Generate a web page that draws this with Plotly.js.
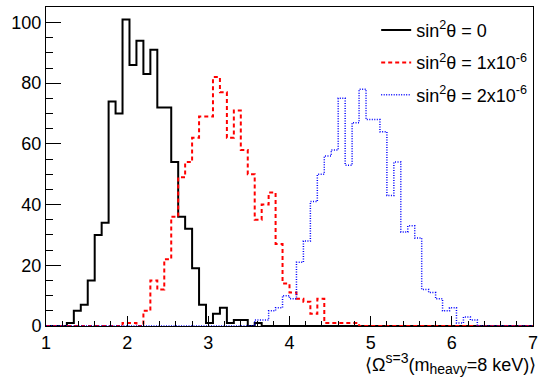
<!DOCTYPE html>
<html>
<head>
<meta charset="utf-8">
<script src="https://cdn.plot.ly/plotly-3.0.1.min.js"></script>
<style>
  html, body { margin: 0; padding: 0; background: #fff; }
  #chart { width: 541px; height: 378px; }
</style>
</head>
<body>
<div id="chart"></div>
<script>
// Histogram binning: 70 equal bins on [1, 7]
const xMin = 1;
const xMax = 7;
const nBins = 70;

// Legend labels
const labels = [
  'sin<sup>2</sup>θ = 0',
  'sin<sup>2</sup>θ = 1x10<sup>-6</sup>',
  'sin<sup>2</sup>θ = 2x10<sup>-6</sup>'
];

// Bin contents (entries per bin), 1000 pseudo-experiments each
const countsZero = [
  0, 0, 0, 1, 5, 7, 15, 30, 34, 74,
  70, 101, 86, 94, 83, 91, 72, 72, 54, 36,
  32, 19, 7, 1, 4, 6, 1, 2, 2, 0,
  1, 0, 0, 0, 0, 0, 0, 0, 0, 0,
  0, 0, 0, 0, 0, 0, 0, 0, 0, 0,
  0, 0, 0, 0, 0, 0, 0, 0, 0, 0,
  0, 0, 0, 0, 0, 0, 0, 0, 0, 0
];
const countsOne = [
  0, 0, 0, 0, 0, 0, 0, 0, 0, 0,
  0, 1, 1, 0, 5, 15, 12, 22, 36, 49,
  54, 62, 69, 69, 82, 77, 62, 71, 58, 50,
  35, 40, 44, 27, 14, 11, 9, 8, 4, 9,
  1, 1, 1, 1, 1, 0, 0, 0, 0, 0,
  0, 0, 0, 0, 0, 0, 0, 0, 0, 0,
  0, 0, 0, 0, 0, 0, 0, 0, 0, 0
];
const countsTwo = [
  0, 0, 0, 0, 0, 0, 0, 0, 0, 0,
  0, 0, 0, 0, 0, 0, 0, 0, 0, 0,
  0, 0, 0, 0, 0, 0, 0, 0, 0, 0,
  2, 2, 5, 6, 10, 9, 21, 28, 41, 50,
  56, 58, 75, 53, 67, 78, 68, 68, 64, 43,
  54, 31, 33, 29, 12, 11, 9, 5, 6, 1,
  3, 2, 0, 0, 0, 0, 0, 0, 0, 0
];

const FONT = '"Liberation Sans", Arial, Helvetica, sans-serif';

// Turn bin contents into a step outline (left edge of each bin, plus the last edge)
function stepOutline(counts) {
  const w = (xMax - xMin) / nBins;
  const xs = [], ys = [];
  for (let i = 0; i < nBins; i++) {
    xs.push(xMin + i * w);
    ys.push(counts[i]);
  }
  xs.push(xMax);
  ys.push(counts[nBins - 1]);
  return { xs, ys };
}

const styles = [
  { color: '#000000', width: 2, dash: 'solid' },
  { color: '#ff0000', width: 2, dash: '4px,3px' },
  { color: '#0000ff', width: 1.5, dash: '1px,1.5px' }
];

const traces = [countsZero, countsOne, countsTwo].map((c, k) => {
  const s = stepOutline(c);
  return {
    type: 'scatter',
    mode: 'lines',
    x: s.xs,
    y: s.ys,
    name: labels[k],
    legendgroup: 'g' + k,
    line: { shape: 'hv', color: styles[k].color, width: styles[k].width, dash: styles[k].dash },
    hoverinfo: 'skip'
  };
});

const small = t => '<span style="font-size:14px">' + t + '</span>';

const layout = {
  width: 541,
  height: 378,
  margin: { l: 46, r: 8, t: 7, b: 52 },
  paper_bgcolor: '#ffffff',
  plot_bgcolor: '#ffffff',
  font: { family: FONT, size: 18, color: '#000' },
  showlegend: true,
  legend: {
    x: 0.678, y: 0.985, xanchor: 'left', yanchor: 'top',
    bgcolor: 'rgba(0,0,0,0)', borderwidth: 0,
    font: { family: FONT, size: 18, color: '#000' },
    tracegroupgap: 6, itemwidth: 30
  },
  xaxis: {
    range: [xMin, xMax],
    showgrid: false, zeroline: false,
    showline: true, linecolor: '#000', linewidth: 1, mirror: true,
    ticks: 'inside', ticklen: 10, tickcolor: '#000', tickwidth: 1,
    dtick: 1, tick0: 1,
    minor: { dtick: 0.2, ticklen: 5, ticks: 'inside', tickcolor: '#000', tickwidth: 1, showgrid: false },
    tickfont: { family: FONT, size: 18, color: '#000' }
  },
  yaxis: {
    range: [0, 105.1],
    showgrid: false, zeroline: false,
    showline: true, linecolor: '#000', linewidth: 1, mirror: true,
    ticks: 'inside', ticklen: 15, tickcolor: '#000', tickwidth: 1,
    dtick: 20, tick0: 0,
    minor: { dtick: 5, ticklen: 7, ticks: 'inside', tickcolor: '#000', tickwidth: 1, showgrid: false },
    tickfont: { family: FONT, size: 18, color: '#000' }
  },
  annotations: [{
    xref: 'paper', yref: 'paper',
    x: 1.011, y: -0.07, xanchor: 'right', yanchor: 'top',
    showarrow: false,
    text: '⟨Ω<sup>' + small('s=3') + '</sup>(m<sub>' + small('heavy') + '</sub>=8 keV)⟩',
    font: { family: FONT, size: 18, color: '#000' }
  }]
};

Plotly.newPlot('chart', traces, layout, { staticPlot: true, displayModeBar: false });
</script>
</body>
</html>
